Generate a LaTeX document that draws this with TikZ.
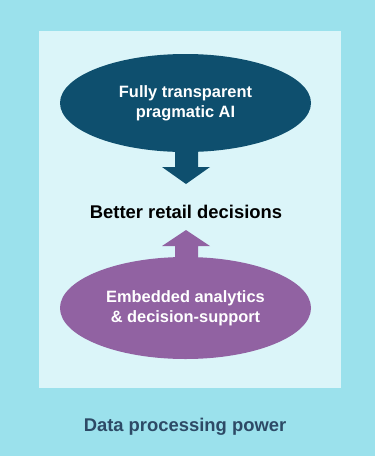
\documentclass[tikz,border=0pt]{standalone}
\usepackage{fontspec}
\setmainfont{Liberation Sans}
\usetikzlibrary{shapes.geometric}
\definecolor{outerc}{HTML}{9BE1EC}
\definecolor{innerc}{HTML}{DBF5F9}
\definecolor{aiblue}{HTML}{0E4F6E}
\definecolor{purp}{HTML}{9162A2}
\definecolor{bottomtxt}{HTML}{2D4A66}
\begin{document}
\begin{tikzpicture}[x=1pt,y=-1pt,
  oval/.style={ellipse, minimum width=251pt, minimum height=98pt, inner sep=0pt, align=center, text=white, font=\fontsize{16.4}{20}\selectfont\bfseries},
  lbl/.style={font=\fontsize{18.4}{22}\selectfont\bfseries}]
\useasboundingbox (0,0) rectangle (375,456);
\fill[outerc] (0,0) rectangle (375,456);
\fill[innerc] (39,31) rectangle (341,388);
% down arrow
\fill[aiblue] (175,130) -- (198,130) -- (198,167) -- (210,167) -- (186,184) -- (162,167) -- (175,167) -- cycle;
% up arrow
\fill[purp] (175,275) -- (198,275) -- (198,246) -- (210,246) -- (186,230) -- (162,246) -- (175,246) -- cycle;
\node[oval, fill=aiblue] (ai) at (185.5,103) {Fully transparent\\pragmatic AI};
\node[oval, fill=purp, minimum height=102pt] (emb) at (185.5,308) {Embedded analytics\\\& decision-support};
\node[lbl] (dec) at (186,212) {Better retail decisions};
\node[lbl, text=bottomtxt] (data) at (185,427) {Data processing power};
\end{tikzpicture}
\end{document}
